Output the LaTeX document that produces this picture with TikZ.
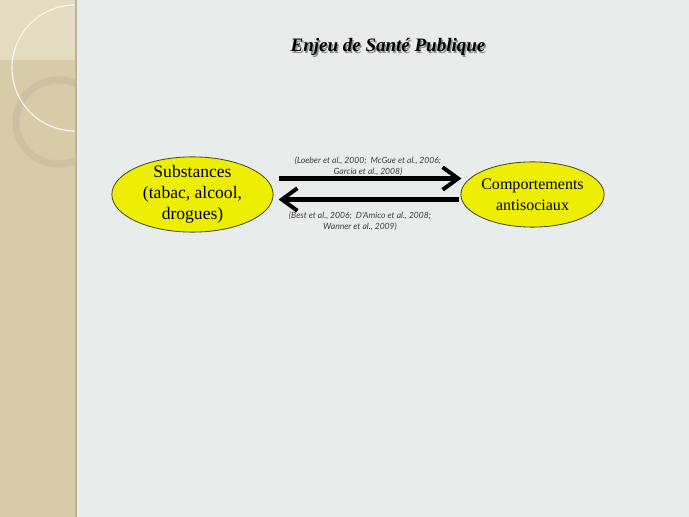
\documentclass[tikz,border=0pt]{standalone}
\usepackage{fontspec}
\setmainfont{Liberation Serif}
\newfontfamily\citefont{Lato}
\usetikzlibrary{arrows.meta,positioning,shapes.geometric}
\definecolor{SlideBg}{HTML}{E8ECEB}
\definecolor{SlideStrip}{HTML}{D8CCA8}
\definecolor{StripLight}{HTML}{E3DBC2}
\definecolor{StripRing}{HTML}{CCC2A3}
\definecolor{StripEdge}{HTML}{BDB395}
\definecolor{BlobYellow}{HTML}{EEEE00}
\definecolor{BlobEdge}{HTML}{4A4A30}
\definecolor{CiteInk}{HTML}{404040}
\tikzset{
  blob/.style={ellipse, draw=BlobEdge, line width=0.6pt, fill=BlobYellow, inner sep=-2pt,
    align=center, font=\fontsize{12.5}{15}\selectfont, text=black},
  citelabel/.style={align=center, font=\citefont\itshape\fontsize{6.1}{7.9}\selectfont, text=CiteInk},
  slidetitle/.style={font=\bfseries\itshape\fontsize{13.5}{16}\selectfont},
  linkarrow/.style={-{Straight Barb[length=11pt,width=16pt,line width=2.8pt]}, line width=3.2pt, draw=black}
}
\begin{document}
\begin{tikzpicture}[x=0.025cm,y=-0.025cm]
\useasboundingbox (0,0) rectangle (689,517);
% slide background and left strip
\fill[SlideBg] (0,0) rectangle (689,517);
\fill[SlideStrip] (0,0) rectangle (76,517);
\begin{scope}
  \clip (0,0) rectangle (76,517);
  \fill[StripLight] (0,0) rectangle (76,60);
  \draw[StripRing, line width=5pt] (58,122) circle (42);
  \draw[white!85!SlideStrip, line width=0.8pt] (75,68) circle (63);
\end{scope}
\draw[StripEdge, line width=1pt] (76,0) -- (76,517);
% title
\node[slidetitle, text=black!45] at (389.5,48.5) {Enjeu de Santé Publique};
\node[slidetitle] (title) at (388,47) {Enjeu de Santé Publique};
% the two ellipses
\node[blob, minimum width=4.03cm, minimum height=1.88cm] (subst) at (192.5,194.5) {Substances\\(tabac, alcool,\\drogues)};
\node[blob, minimum width=3.58cm, minimum height=1.63cm, font=\fontsize{11.4}{15}\selectfont] (antisoc) at (532.5,194.5) {Comportements\\antisociaux};
% arrows
\draw[linkarrow] ([shift={(5,-16)}]subst.east) -- ([shift={(1,-16)}]antisoc.west);
\draw[linkarrow] ([shift={(-1,5)}]antisoc.west) -- ([shift={(5,5)}]subst.east);
% references
\node[citelabel] (refup) at (368,166) {(Loeber et al., 2000;\ \ McGue et al., 2006;\\Garcia et al., 2008)};
\node[citelabel] (refdown) at (360,221) {(Best et al., 2006;\ \ D'Amico et al., 2008;\\Wanner et al., 2009)};
\end{tikzpicture}
\end{document}
